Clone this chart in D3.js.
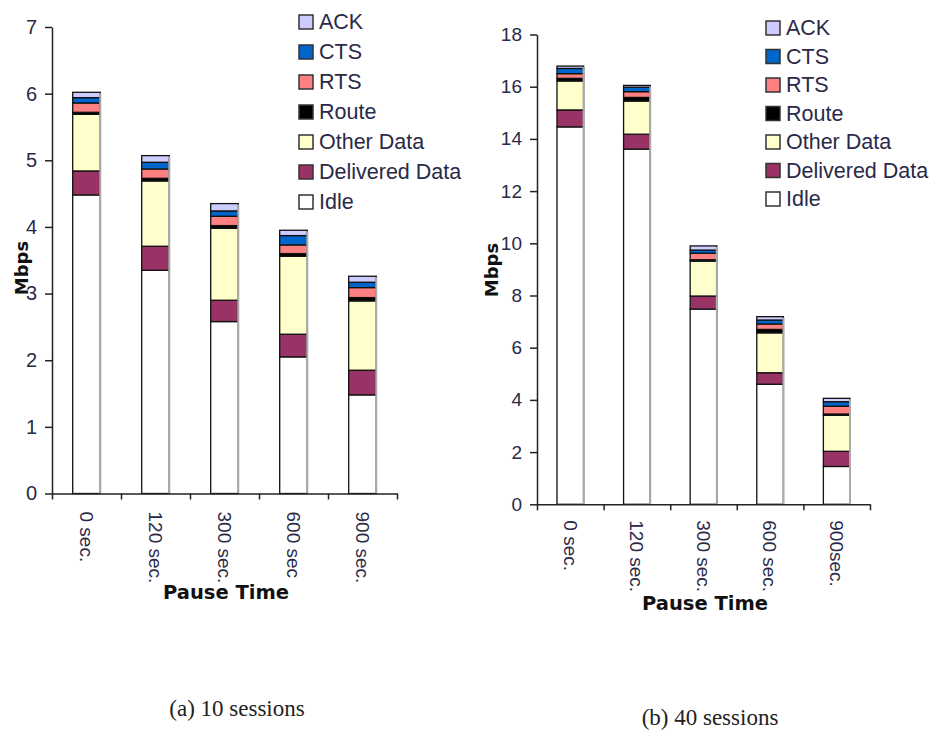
<!DOCTYPE html>
<html>
<head>
<meta charset="utf-8">
<script src="https://cdn.jsdelivr.net/npm/d3@7"></script>
<style>
  body { margin: 0; background: #fff; }
  svg text { font-family: "Liberation Sans", Arial, sans-serif; }
</style>
</head>
<body>
<div id="svg"></div>
<script>
// stack order, bottom to top
var series = ['Idle', 'Delivered Data', 'Other Data', 'Route', 'RTS', 'CTS', 'ACK'];
var colors = ['#ffffff', '#993366', '#ffffcc', '#000000', '#ff8080', '#0066cc', '#ccccff'];
var legendOrder = ['ACK', 'CTS', 'RTS', 'Route', 'Other Data', 'Delivered Data', 'Idle'];

var pauseA = ['0 sec.', '120 sec.', '300 sec.', '600 sec', '900 sec.'];
var pauseB = ['0 sec.', '120 sec.', '300 sec.', '600 sec.', '900sec.'];

var ticksA = [0, 1, 2, 3, 4, 5, 6, 7];
var ticksB = [0, 2, 4, 6, 8, 10, 12, 14, 16, 18];

// (a) 10 sessions
var idleA      = [4.48, 3.35, 2.58, 2.05, 1.48];
var deliveredA = [0.36, 0.36, 0.32, 0.34, 0.37];
var otherA     = [0.85, 0.98, 1.08, 1.17, 1.04];
var routeA     = [0.03, 0.04, 0.04, 0.04, 0.05];
var rtsA       = [0.14, 0.14, 0.14, 0.13, 0.15];
var ctsA       = [0.08, 0.10, 0.08, 0.14, 0.08];
var ackA       = [0.08, 0.10, 0.11, 0.08, 0.09];

// (b) 40 sessions
var idleB      = [14.46, 13.61, 7.48, 4.60, 1.45];
var deliveredB = [0.65, 0.57, 0.50, 0.44, 0.58];
var otherB     = [1.11, 1.27, 1.34, 1.53, 1.38];
var routeB     = [0.10, 0.14, 0.05, 0.13, 0.05];
var rtsB       = [0.18, 0.22, 0.25, 0.21, 0.30];
var ctsB       = [0.20, 0.17, 0.12, 0.15, 0.17];
var ackB       = [0.09, 0.07, 0.16, 0.13, 0.13];

var svg = d3.select('#svg').append('svg')
    .attr('width', 939)
    .attr('height', 733);

function drawChart(o) {
  var rows = o.cats.map(function(c, i) {
    var r = { cat: c };
    series.forEach(function(s, k) { r[s] = o.values[k][i]; });
    return r;
  });
  var stack = d3.stack().keys(series)(rows);

  var x = d3.scaleBand().domain(o.cats).range([o.x0, o.x1])
      .paddingInner(0.6).paddingOuter(0.3);
  var xb = d3.scaleLinear().domain([0, o.cats.length]).range([o.x0, o.x1]);
  var y = d3.scaleLinear().domain([0, o.ymax]).range([o.y0, o.y1]);

  var g = svg.append('g');

  // bars
  stack.forEach(function(layer, k) {
    g.selectAll(null).data(layer).enter().append('rect')
      .attr('x', function(d) { return x(d.data.cat); })
      .attr('y', function(d) { return y(d[1]); })
      .attr('width', x.bandwidth())
      .attr('height', function(d) { return y(d[0]) - y(d[1]); })
      .style('fill', colors[k])
      .style('stroke', '#111')
      .style('stroke-width', 1.3);
  });
  // shaded right edge of each bar
  var top = stack[stack.length - 1];
  g.selectAll(null).data(top).enter().append('line')
    .attr('x1', function(d) { return x(d.data.cat) + x.bandwidth(); })
    .attr('x2', function(d) { return x(d.data.cat) + x.bandwidth(); })
    .attr('y1', function(d) { return y(d[1]) + 1; })
    .attr('y2', o.y0)
    .style('stroke', '#aaa')
    .style('stroke-width', 2);

  // axes
  var ya = g.append('g')
    .attr('transform', 'translate(' + o.x0 + ',0)')
    .call(d3.axisLeft(y).tickValues(o.ticks).tickFormat(d3.format('d'))
      .tickSize(7).tickSizeOuter(0).tickPadding(8));
  ya.selectAll('text').style('font-size', o.fs + 'px').style('fill', '#2a2a48');
  ya.selectAll('line, path').style('stroke', '#222').style('stroke-width', 1.5);

  var xa = g.append('g')
    .attr('transform', 'translate(0,' + o.y0 + ')')
    .call(d3.axisBottom(xb).ticks(o.cats.length).tickSize(6).tickSizeOuter(0).tickFormat(''));
  xa.selectAll('line, path').style('stroke', '#222').style('stroke-width', 1.5);

  g.selectAll(null).data(o.cats).enter().append('text')
    .text(function(d) { return d; })
    .attr('transform', function(d) {
      return 'translate(' + (x(d) + x.bandwidth() / 2) + ',' + (o.y0 + o.labGap) + ') rotate(90)';
    })
    .attr('dy', '0.35em')
    .style('font-size', '19px')
    .style('fill', '#2a2a48');

  g.append('text')
    .text('Pause Time')
    .attr('x', o.titleX)
    .attr('y', o.titleY)
    .attr('text-anchor', 'middle')
    .style('font-family', '"DejaVu Sans", Verdana, sans-serif')
    .style('font-weight', 'bold')
    .style('font-size', '19.5px')
    .style('fill', '#111');

  g.append('text')
    .text('Mbps')
    .attr('transform', 'translate(' + o.mbpsX + ',' + o.mbpsY + ') rotate(-90)')
    .attr('text-anchor', 'middle')
    .style('font-family', '"DejaVu Sans", Verdana, sans-serif')
    .style('font-weight', 'bold')
    .style('font-size', '18px')
    .style('fill', '#111');

  // legend
  var lg = g.selectAll(null).data(legendOrder).enter().append('g')
    .attr('transform', function(d, i) { return 'translate(' + o.legX + ',' + (o.legY + i * o.legStep) + ')'; });
  lg.append('rect')
    .attr('x', 0).attr('y', -13)
    .attr('width', 14).attr('height', 14)
    .style('fill', function(d) { return colors[series.indexOf(d)]; })
    .style('stroke', '#333')
    .style('stroke-width', 1.5);
  lg.append('text')
    .text(function(d) { return d; })
    .attr('x', 20)
    .attr('y', 1)
    .style('font-size', '21.5px')
    .style('fill', '#2a2a48');

  svg.append('text')
    .text(o.caption)
    .attr('x', o.capX)
    .attr('y', o.capY)
    .attr('text-anchor', 'middle')
    .style('font-family', '"Liberation Serif", "Times New Roman", serif')
    .style('font-size', '23px')
    .style('fill', '#222');
}

drawChart({
  cats: pauseA,
  values: [idleA, deliveredA, otherA, routeA, rtsA, ctsA, ackA],
  ticks: ticksA, ymax: 7,
  x0: 52, x1: 397, y0: 493.5, y1: 27,
  fs: 20, labGap: 18,
  titleX: 226, titleY: 599,
  mbpsX: 28, mbpsY: 268,
  legX: 299, legY: 28, legStep: 30,
  caption: '(a) 10 sessions', capX: 237, capY: 716
});

drawChart({
  cats: pauseB,
  values: [idleB, deliveredB, otherB, routeB, rtsB, ctsB, ackB],
  ticks: ticksB, ymax: 18,
  x0: 537, x1: 870, y0: 504.3, y1: 34.5,
  fs: 19, labGap: 16,
  titleX: 705, titleY: 610,
  mbpsX: 498, mbpsY: 270,
  legX: 766, legY: 34, legStep: 28.5,
  caption: '(b) 40 sessions', capX: 710, capY: 725
});
</script>
</body>
</html>
